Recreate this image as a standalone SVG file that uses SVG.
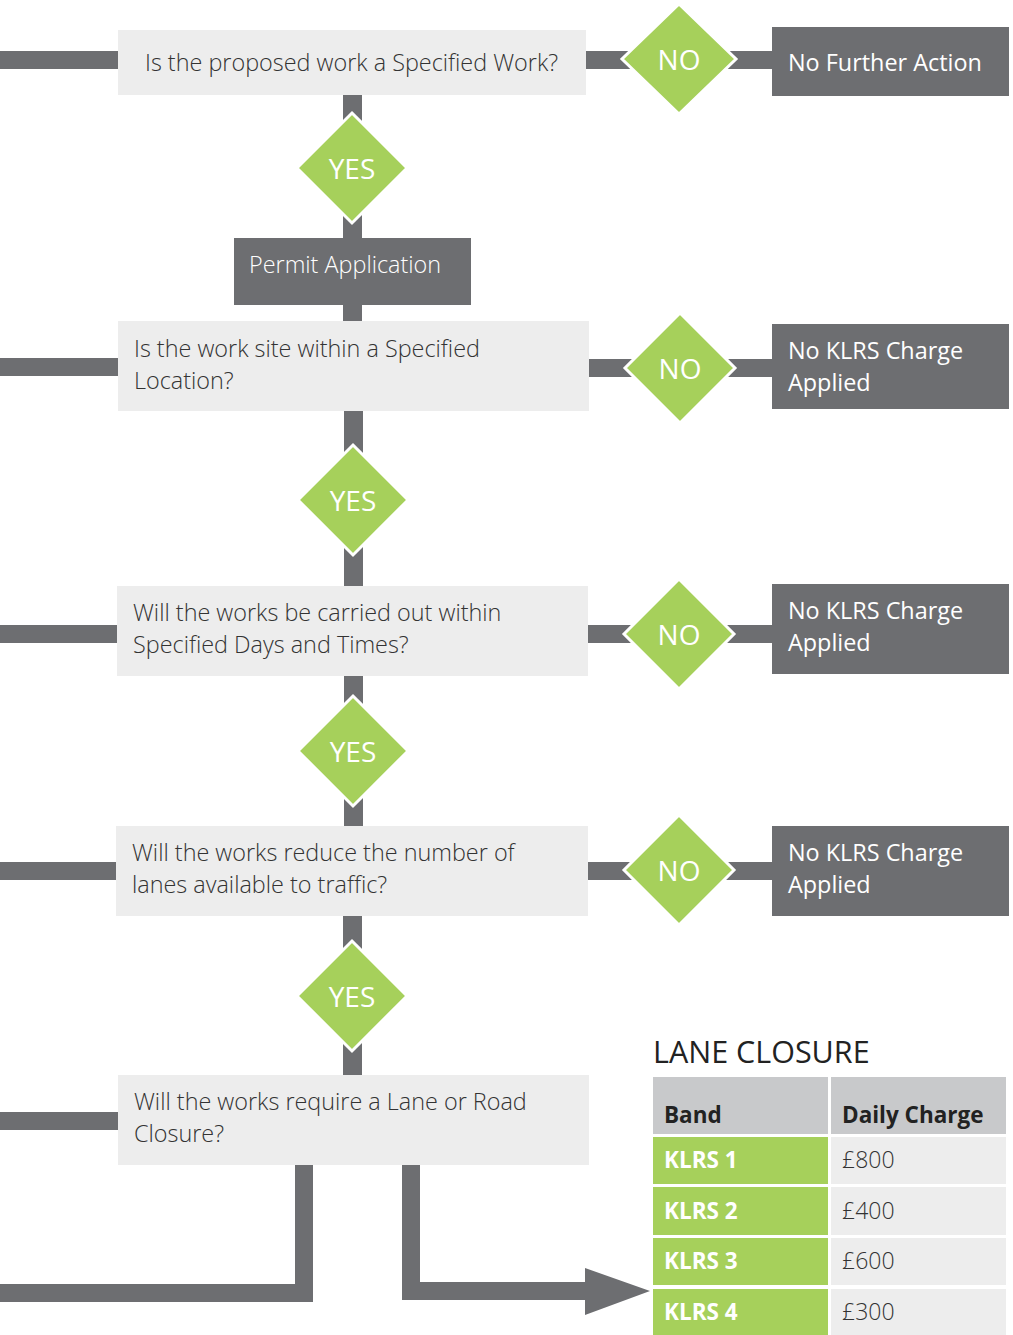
<svg xmlns="http://www.w3.org/2000/svg" width="1013" height="1335" viewBox="0 0 1013 1335">
<style>
.bar{fill:#6d6e71}
.q{fill:#ededed}
.dk{fill:#6d6e71}
.dia{fill:#a6d05b;stroke:#fff;stroke-width:3}
.qt{font-family:"Open Sans",sans-serif;font-weight:300;font-size:23.4px;fill:#333}
.wt{font-family:"Open Sans",sans-serif;font-size:23.4px;fill:#fff}
.wl{font-family:"Open Sans",sans-serif;font-weight:300;font-size:23.4px;fill:#fff}
.dt{font-family:"Open Sans",sans-serif;font-weight:400;font-size:28px;fill:#fff;text-anchor:middle}
.th{font-family:"Open Sans",sans-serif;font-weight:700;font-size:22.5px;fill:#222}
.kl{font-family:"Open Sans",sans-serif;font-weight:700;font-size:22.5px;fill:#fff}
.pr{font-family:"Open Sans",sans-serif;font-weight:300;font-size:23px;fill:#333}
</style>
<g id="connectors">
<rect class="bar" x="0" y="51" width="120" height="18"/>
<rect class="bar" x="584" y="51" width="190" height="18"/>
<rect class="bar" x="343" y="93" width="19" height="230"/>
<rect class="bar" x="0" y="358" width="120" height="18"/>
<rect class="bar" x="587" y="359" width="187" height="18"/>
<rect class="bar" x="344" y="409" width="19" height="180"/>
<rect class="bar" x="0" y="625" width="120" height="18"/>
<rect class="bar" x="586" y="625" width="188" height="18"/>
<rect class="bar" x="344" y="674" width="19" height="154"/>
<rect class="bar" x="0" y="862" width="120" height="18"/>
<rect class="bar" x="586" y="862" width="188" height="18"/>
<rect class="bar" x="343" y="914" width="19" height="163"/>
<rect class="bar" x="0" y="1112" width="120" height="18"/>
<path class="bar" d="M295 1163 H313 V1302 H0 V1284 H295 Z"/>
<path class="bar" d="M402 1163 H420 V1282 H585 V1268 L650 1291 L585 1315 V1300 H402 Z"/>
</g>
<g id="q1"><rect class="q" x="118" y="30" width="468" height="65"/><text class="qt" x="145" y="71">Is the proposed work a Specified Work?</text></g>
<g id="no1"><polygon class="dia" points="679,4 736,59 679,114 622,59"/><text class="dt" x="679" y="70">NO</text></g>
<g id="r1"><rect class="dk" x="772" y="27" width="237" height="69"/><text class="wt" x="788" y="71">No Further Action</text></g>
<g id="yes1"><polygon class="dia" points="352,113 407,168 352,223 297,168"/><text class="dt" x="352" y="179">YES</text></g>
<g id="permit"><rect class="dk" x="234" y="238" width="237" height="67"/><text class="wl" x="249" y="273">Permit Application</text></g>
<g id="q2"><rect class="q" x="118" y="321" width="471" height="90"/><text class="qt" x="134" y="357">Is the work site within a Specified</text><text class="qt" x="134" y="389">Location?</text></g>
<g id="no2"><polygon class="dia" points="680,313 735,368 680,423 625,368"/><text class="dt" x="680" y="379">NO</text></g>
<g id="r2"><rect class="dk" x="772" y="324" width="237" height="85"/><text class="wt" x="788" y="359">No KLRS Charge</text><text class="wt" x="788" y="391">Applied</text></g>
<g id="yes2"><polygon class="dia" points="353,445 408,500 353,555 298,500"/><text class="dt" x="353" y="511">YES</text></g>
<g id="q3"><rect class="q" x="117" y="586" width="471" height="90"/><text class="qt" x="133" y="621">Will the works be carried out within</text><text class="qt" x="133" y="653">Specified Days and Times?</text></g>
<g id="no3"><polygon class="dia" points="679,579 734,634 679,689 624,634"/><text class="dt" x="679" y="645">NO</text></g>
<g id="r3"><rect class="dk" x="772" y="584" width="237" height="90"/><text class="wt" x="788" y="619">No KLRS Charge</text><text class="wt" x="788" y="651">Applied</text></g>
<g id="yes3"><polygon class="dia" points="353,696 408,751 353,806 298,751"/><text class="dt" x="353" y="762">YES</text></g>
<g id="q4"><rect class="q" x="116" y="826" width="472" height="90"/><text class="qt" x="132" y="861">Will the works reduce the number of</text><text class="qt" x="132" y="893">lanes available to traffic?</text></g>
<g id="no4"><polygon class="dia" points="679,815 734,870 679,925 624,870"/><text class="dt" x="679" y="881">NO</text></g>
<g id="r4"><rect class="dk" x="772" y="826" width="237" height="90"/><text class="wt" x="788" y="861">No KLRS Charge</text><text class="wt" x="788" y="893">Applied</text></g>
<g id="yes4"><polygon class="dia" points="352,941 407,996 352,1051 297,996"/><text class="dt" x="352" y="1007">YES</text></g>
<g id="q5"><rect class="q" x="118" y="1075" width="471" height="90"/><text class="qt" x="134" y="1110">Will the works require a Lane or Road</text><text class="qt" x="134" y="1142">Closure?</text></g>
<g id="table">
<text x="653" y="1063" style="font-family:'Open Sans',sans-serif;font-size:30.5px;fill:#222">LANE CLOSURE</text>
<rect x="653" y="1077" width="175" height="57" fill="#c8c9cb"/>
<rect x="831" y="1077" width="175" height="57" fill="#c8c9cb"/>
<text class="th" x="664" y="1123">Band</text>
<text class="th" x="842" y="1123">Daily Charge</text>
<rect x="653" y="1137" width="175" height="47" fill="#a6d05b"/>
<rect x="831" y="1137" width="175" height="47" fill="#ededed"/>
<rect x="653" y="1187" width="175" height="48" fill="#a6d05b"/>
<rect x="831" y="1187" width="175" height="48" fill="#ededed"/>
<rect x="653" y="1238" width="175" height="47" fill="#a6d05b"/>
<rect x="831" y="1238" width="175" height="47" fill="#ededed"/>
<rect x="653" y="1289" width="175" height="46" fill="#a6d05b"/>
<rect x="831" y="1289" width="175" height="46" fill="#ededed"/>
<text class="kl" x="664" y="1168">KLRS 1</text><text class="pr" x="842" y="1168">£800</text>
<text class="kl" x="664" y="1219">KLRS 2</text><text class="pr" x="842" y="1219">£400</text>
<text class="kl" x="664" y="1269">KLRS 3</text><text class="pr" x="842" y="1269">£600</text>
<text class="kl" x="664" y="1320">KLRS 4</text><text class="pr" x="842" y="1320">£300</text>
</g>
</svg>
